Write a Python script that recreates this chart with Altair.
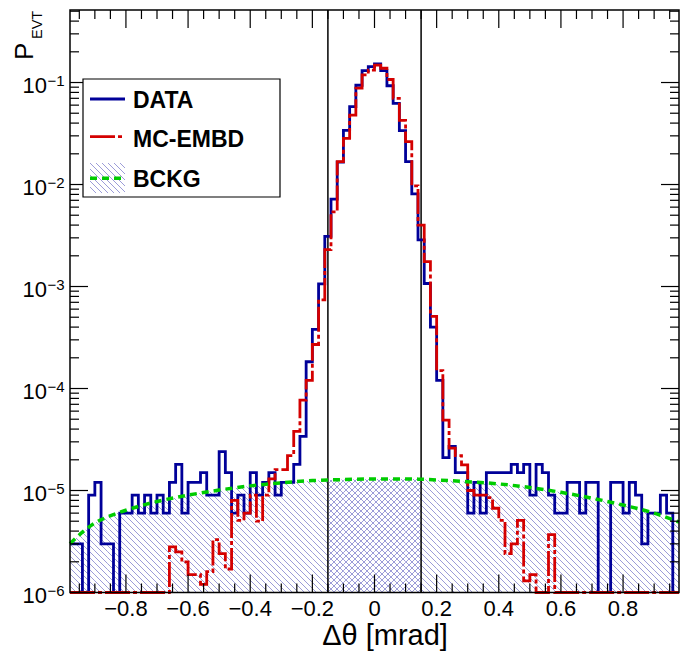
import math
import altair as alt
import pandas as pd

# ---------------- data ----------------
X_LO, X_HI = -0.98, 0.98
BIN_WIDTH = 0.02
Y_BOTTOM, Y_TOP = 1e-6, 0.514
CUTS = [-0.15, 0.15]

data_vals = [
    3.0e-6, 3.0e-6, 0, 9.0e-6, 1.2e-5, 3.0e-6, 3.0e-6, 0, 6.0e-6, 6.0e-6,
    9.0e-6, 6.0e-6, 9.0e-6, 6.0e-6, 9.0e-6, 6.0e-6, 1.2e-5, 1.8e-5, 6.0e-6, 1.2e-5,
    1.2e-5, 1.5e-5, 9.0e-6, 9.0e-6, 2.4e-5, 1.5e-5, 6.0e-6, 9.0e-6, 6.0e-6, 1.5e-5,
    9.0e-6, 1.2e-5, 1.5e-5, 9.0e-6, 1.2e-5, 1.2e-5, 1.8e-5, 3.4e-5, 1.83e-4, 3.8e-4,
    1.06e-3, 3.1e-3, 7.2e-3, 1.66e-2, 3.4e-2, 5.8e-2, 9.4e-2, 0.131, 0.143, 0.152,
    0.131, 0.093, 0.0625, 0.0337, 0.0168, 8.1e-3, 2.86e-3, 1.07e-3, 4.0e-4, 1.2e-4,
    2.1e-5, 2.7e-5, 1.5e-5, 1.5e-5, 6.0e-6, 1.2e-5, 6.0e-6, 1.5e-5, 1.5e-5, 1.5e-5,
    1.5e-5, 1.8e-5, 1.5e-5, 1.8e-5, 9.0e-6, 1.8e-5, 1.5e-5, 9.0e-6, 6.0e-6, 6.0e-6,
    1.2e-5, 1.2e-5, 6.0e-6, 1.2e-5, 1.2e-5, 0, 0, 1.2e-5, 1.2e-5, 6.0e-6,
    1.2e-5, 9.0e-6, 3.0e-6, 6.0e-6, 6.0e-6, 9.0e-6, 6.0e-6, 0,
]

mc_vals = [
    0, 0, 0, 0, 0, 0, 0, 0, 0, 0,
    0, 0, 0, 0, 0, 0, 2.8e-6, 2.5e-6, 2.0e-6, 1.5e-6,
    1.5e-6, 1.2e-6, 1.6e-6, 3.3e-6, 2.4e-6, 1.7e-6, 8.0e-6, 5.1e-6, 6.0e-6, 9.0e-6,
    5.0e-6, 9.0e-6, 1.3e-5, 1.6e-5, 1.6e-5, 2.2e-5, 3.8e-5, 7.7e-5, 1.2e-4, 2.7e-4,
    7.4e-4, 2.3e-3, 5.4e-3, 1.68e-2, 2.84e-2, 4.8e-2, 8.8e-2, 0.119, 0.132, 0.148,
    0.138, 0.107, 0.070, 0.0425, 0.0263, 9.7e-3, 4.0e-3, 1.75e-3, 5.1e-4, 1.5e-4,
    4.9e-5, 2.6e-5, 2.2e-5, 1.78e-5, 1.0e-5, 9.0e-6, 9.0e-6, 8.5e-6, 6.7e-6, 5.1e-6,
    2.4e-6, 3.0e-6, 5.1e-6, 1.3e-6, 1.5e-6, 0, 0, 3.7e-6, 0, 0,
    0, 0, 0, 0, 0, 0, 0, 0, 0, 0,
    0, 0, 0, 0, 0, 0, 0, 0,
]

bckg_x = [-0.98, -0.94, -0.9, -0.86, -0.8, -0.7, -0.6, -0.5, -0.4, -0.3, -0.2, -0.15,
          -0.1, 0.0, 0.1, 0.15, 0.2, 0.3, 0.4, 0.5, 0.6, 0.7, 0.8, 0.9, 0.98]
bckg_y = [3.0e-6, 3.9e-6, 4.8e-6, 5.5e-6, 6.4e-6, 7.8e-6, 9.0e-6, 1.01e-5, 1.11e-5, 1.19e-5,
          1.25e-5, 1.27e-5, 1.28e-5, 1.3e-5, 1.3e-5, 1.29e-5, 1.27e-5, 1.22e-5, 1.16e-5,
          1.07e-5, 9.6e-6, 8.4e-6, 7.2e-6, 6.0e-6, 4.9e-6]

x_major = [-0.8, -0.6, -0.4, -0.2, 0.0, 0.2, 0.4, 0.6, 0.8]
x_labels = ["\u22120.8", "\u22120.6", "\u22120.4", "\u22120.2", "0", "0.2", "0.4", "0.6", "0.8"]
x_minor = [-0.95, -0.9, -0.85, -0.75, -0.7, -0.65, -0.55, -0.5, -0.45, -0.35, -0.3, -0.25,
           -0.15, -0.1, -0.05, 0.05, 0.1, 0.15, 0.25, 0.3, 0.35, 0.45, 0.5, 0.55,
           0.65, 0.7, 0.75, 0.85, 0.9, 0.95]
y_major = [1e-6, 1e-5, 1e-4, 1e-3, 1e-2, 1e-1]
y_exps = ["\u22126", "\u22125", "\u22124", "\u22123", "\u22122", "\u22121"]
y_minor_mult = [2, 3, 4, 5, 6, 7, 8, 9]

legend_labels = ["DATA", "MC-EMBD", "BCKG"]

# ---------------- layout / style ----------------
W, H = 609, 582.5
FONT = "Liberation Sans"
BLUE, RED, GREEN, HATCH = "#000099", "#d40000", "#00cc00", "#9c9cd8"
MAJ, MIN = 18, 9
SPACING = 6.0
RED_DASH = [25, 3, 4, 3]
GREEN_DASH = [7, 5]

DECADE = H / math.log10(Y_TOP / Y_BOTTOM)
PX_PER_X = W / (X_HI - X_LO)
BCKG_MAX = max(bckg_y)

edges = [X_LO + BIN_WIDTH * i for i in range(len(data_vals) + 1)]
hist = pd.DataFrame({
    "x": edges,
    "data": data_vals + [data_vals[-1]],
    "mc": mc_vals + [mc_vals[-1]],
})
bckg = pd.DataFrame({"x": bckg_x, "y": bckg_y})
cuts = pd.DataFrame({"x": CUTS})
xmaj = pd.DataFrame({"x": x_major, "lab": x_labels})
xmin = pd.DataFrame({"x": x_minor})
ymaj = pd.DataFrame({"y": y_major, "exp": y_exps})
ymin = pd.DataFrame({"y": [m * d for d in y_major for m in y_minor_mult if m * d <= Y_TOP]})
one = pd.DataFrame({"a": [0]})

xsc = alt.Scale(domain=[X_LO, X_HI], nice=False, zero=False)
ysc = alt.Scale(type="log", domain=[Y_BOTTOM, Y_TOP], nice=False)


def X(f="x"):
    return alt.X(f + ":Q", scale=xsc, axis=None)


def Y(f="y"):
    return alt.Y(f + ":Q", scale=ysc, axis=None)


def hatch(wpx, hpx, forward, phase=0.0, color=HATCH, spacing=SPACING):
    """Striped linear gradient emulating ROOT hatching (45 degree, soft-edged lines)."""
    span = wpx + hpx
    s = span / (wpx ** 2 + hpx ** 2)
    if forward:
        x1, y1, x2, y2 = 0, 0, s * wpx, s * hpx
    else:
        x1, y1, x2, y2 = 0, 1, s * wpx, 1 - s * hpx
    clear = "rgba(255,255,255,0)"
    stops = []
    c = phase - spacing
    while c < span + spacing:
        prof = [(c - 0.85, clear), (c - 0.2, color), (c + 0.2, color), (c + 0.85, clear)]
        for p, col in prof:
            if 0.0 <= p <= span:
                stops.append(alt.GradientStop(offset=p / span, color=col))
        c += spacing
    return alt.LinearGradient(gradient="linear", stops=stops, x1=x1, y1=y1, x2=x2, y2=y2)


def hatch_slices(forward, x_from, x_to):
    """Hatched rectangles up to the background maximum (masked above the curve later)."""
    out = []
    hs = DECADE * math.log10(BCKG_MAX / Y_BOTTOM)
    for i in range(len(bckg_x) - 1):
        xa, xb = bckg_x[i], bckg_x[i + 1]
        if xa < x_from - 1e-9 or xb > x_to + 1e-9:
            continue
        w = (xb - xa) * PX_PER_X
        x0 = (xa - X_LO) * PX_PER_X
        phase = (-(x0 + H - hs)) % SPACING if forward else (H - x0) % SPACING
        seg = pd.DataFrame({"xa": [xa], "xb": [xb], "ya": [Y_BOTTOM], "yb": [BCKG_MAX]})
        out.append(alt.Chart(seg).mark_rect(fill=hatch(w, hs, forward, phase)).encode(
            x=X("xa"), x2="xb", y=Y("ya"), y2="yb"))
    return out


hatch_back = hatch_slices(False, X_LO, X_HI)
hatch_fwd = hatch_slices(True, CUTS[0], CUTS[1])

# white mask above the background curve (clears hatching above it)
mask = alt.Chart(bckg).transform_calculate(
    top=str(BCKG_MAX * 1.02)
).mark_area(fill="white", interpolate="monotone").encode(x=X(), y=Y(), y2="top:Q")

data_line = alt.Chart(hist).transform_calculate(
    v="max(datum.data, 1e-6)"
).mark_line(interpolate="step-after", color=BLUE, strokeWidth=2.8).encode(x=X(), y=Y("v"))

mc_line = alt.Chart(hist).transform_calculate(
    v="max(datum.mc, 1e-6)"
).mark_line(interpolate="step-after", color=RED, strokeWidth=2.8,
            strokeDash=RED_DASH).encode(x=X(), y=Y("v"))

bckg_line = alt.Chart(bckg).mark_line(
    interpolate="monotone", color=GREEN, strokeWidth=3.5, strokeDash=GREEN_DASH
).encode(x=X(), y=Y())

cut_lines = alt.Chart(cuts).mark_rule(color="#111111", strokeWidth=1.6).encode(
    x=X(), y=alt.value(0), y2=alt.value(H))

tick_kw = dict(color="black", strokeWidth=1.2)
ticks = [
    alt.Chart(xmaj).mark_rule(**tick_kw).encode(x=X(), y=alt.value(H - MAJ), y2=alt.value(H)),
    alt.Chart(xmaj).mark_rule(**tick_kw).encode(x=X(), y=alt.value(0), y2=alt.value(MAJ)),
    alt.Chart(xmin).mark_rule(**tick_kw).encode(x=X(), y=alt.value(H - MIN), y2=alt.value(H)),
    alt.Chart(xmin).mark_rule(**tick_kw).encode(x=X(), y=alt.value(0), y2=alt.value(MIN)),
    alt.Chart(ymaj).mark_rule(**tick_kw).encode(y=Y(), x=alt.value(0), x2=alt.value(MAJ)),
    alt.Chart(ymaj).mark_rule(**tick_kw).encode(y=Y(), x=alt.value(W - MAJ), x2=alt.value(W)),
    alt.Chart(ymin).mark_rule(**tick_kw).encode(y=Y(), x=alt.value(0), x2=alt.value(MIN)),
    alt.Chart(ymin).mark_rule(**tick_kw).encode(y=Y(), x=alt.value(W - MIN), x2=alt.value(W)),
]

frame = alt.Chart(one).mark_rect(filled=False, stroke="black", strokeWidth=1.5).encode(
    x=alt.value(0), x2=alt.value(W), y=alt.value(0), y2=alt.value(H))

xlab = alt.Chart(xmaj).mark_text(
    font=FONT, fontSize=22, align="center", baseline="alphabetic", color="black"
).encode(x=X(), y=alt.value(H + 23.5), text="lab:N")

ylab10 = alt.Chart(ymaj).mark_text(
    font=FONT, fontSize=22, align="right", baseline="alphabetic", dy=10, color="black"
).encode(y=Y(), x=alt.value(-23), text=alt.value("10"))

ylabexp = alt.Chart(ymaj).mark_text(
    font=FONT, fontSize=15, align="left", baseline="alphabetic", dy=3, dx=0.5, color="black"
).encode(y=Y(), x=alt.value(-23), text="exp:N")

xtitle = alt.Chart(one).mark_text(
    font=FONT, fontSize=29, align="center", baseline="alphabetic", color="black"
).encode(x=alt.value(315), y=alt.value(635), text=alt.value("\u0394\u03b8 [mrad]"))

ytitle_p = alt.Chart(one).mark_text(
    font=FONT, fontSize=26, align="left", baseline="alphabetic", angle=270, color="black"
).encode(x=alt.value(-36.7), y=alt.value(50), text=alt.value("P"))

ytitle_sub = alt.Chart(one).mark_text(
    font=FONT, fontSize=14.5, align="left", baseline="alphabetic", angle=270, color="black"
).encode(x=alt.value(-28), y=alt.value(29), text=alt.value("EVT"))

# legend
leg_box = alt.Chart(one).mark_rect(fill="white", stroke="black", strokeWidth=1.2).encode(
    x=alt.value(13), x2=alt.value(210), y=alt.value(69), y2=alt.value(187))
leg_data = alt.Chart(one).mark_rule(color=BLUE, strokeWidth=2.8).encode(
    x=alt.value(20), x2=alt.value(55), y=alt.value(89))
leg_mc = alt.Chart(one).mark_rule(color=RED, strokeWidth=2.8, strokeDash=RED_DASH).encode(
    x=alt.value(20), x2=alt.value(55), y=alt.value(126.7))
leg_hatch = alt.Chart(one).mark_rect(fill=hatch(35, 30, False)).encode(
    x=alt.value(20), x2=alt.value(55), y=alt.value(153), y2=alt.value(183))
leg_bckg = alt.Chart(one).mark_rule(color=GREEN, strokeWidth=3.5, strokeDash=GREEN_DASH).encode(
    x=alt.value(20), x2=alt.value(55), y=alt.value(168.3))
leg_text = [
    alt.Chart(one).mark_text(font=FONT, fontSize=23, fontWeight="bold", align="left",
                             baseline="alphabetic", color="black").encode(
        x=alt.value(63), y=alt.value(yy), text=alt.value(t))
    for t, yy in zip(legend_labels, [98.3, 136.7, 176.7])
]

chart = alt.layer(
    *hatch_back, *hatch_fwd, mask, cut_lines, data_line, mc_line, bckg_line,
    *ticks, frame, xlab, ylab10, ylabexp, xtitle, ytitle_p, ytitle_sub,
    leg_box, leg_hatch, leg_data, leg_mc, leg_bckg, *leg_text,
).properties(
    width=W, height=H,
    padding={"left": 62, "top": 2, "right": 10, "bottom": 60},
    autosize=alt.AutoSizeParams(type="none"),
).configure_view(stroke=None)

chart.save("out.html", embed_options={"renderer": "svg", "actions": False})
